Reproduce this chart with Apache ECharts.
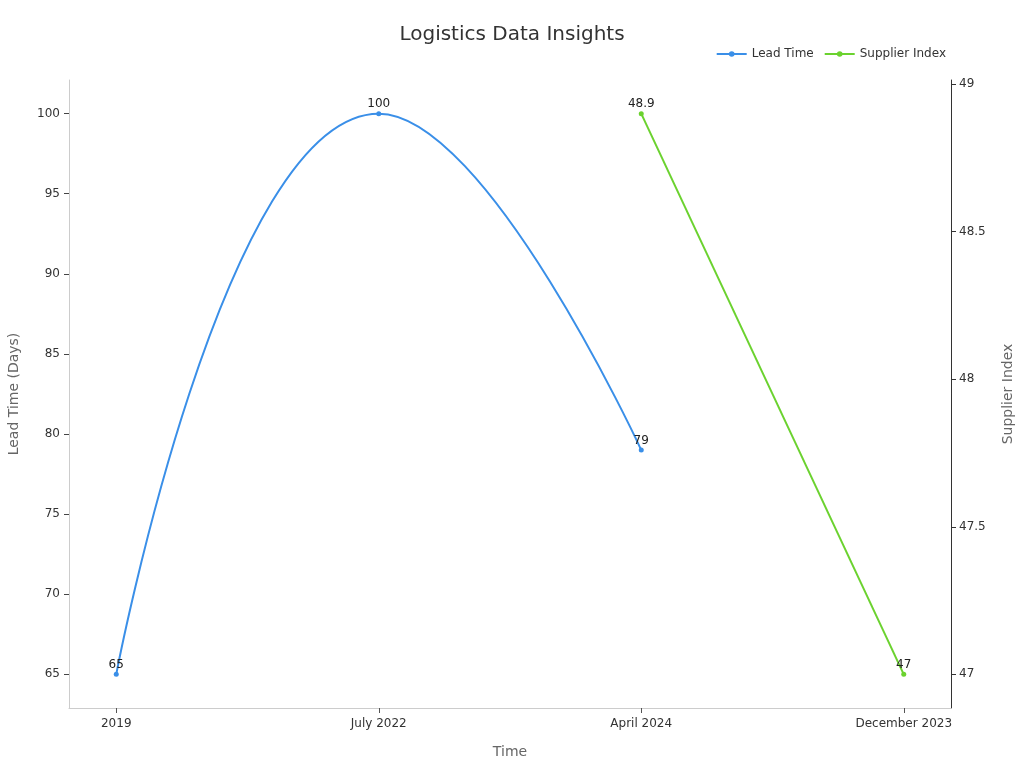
<!DOCTYPE html>
<html>
<head>
<meta charset="utf-8">
<script src="https://cdn.jsdelivr.net/npm/echarts@6/dist/echarts.min.js"></script>
<style>
  html, body { margin: 0; padding: 0; background: #fff; }
  #chart { width: 1024px; height: 768px; }
</style>
</head>
<body>
<div id="chart"></div>
<script>
const categories = ['2019', 'July 2022', 'April 2024', 'December 2023']
const leadTime = [65, 100, 79, null]
const supplierIndex = [null, null, 48.9, 47]
const leadTicks = [65, 70, 75, 80, 85, 90, 95, 100]
const supplierTicks = [47, 47.5, 48, 48.5, 49]

const font = 'DejaVu Sans'
const toPairs = (arr) => arr.map((v, i) => (v == null ? null : [i, v])).filter(p => p)

let chart = echarts.init(document.getElementById('chart'))
chart.setOption({
  textStyle: { fontFamily: font },
  title: {
    text: 'Logistics Data Insights',
    left: 'center',
    top: 20,
    textStyle: { fontSize: 20, fontWeight: 'normal', color: '#333', fontFamily: font }
  },
  legend: {
    top: 43,
    right: 73,
    itemWidth: 30,
    itemHeight: 7,
    itemGap: 10,
    textStyle: { fontSize: 12, color: '#333', fontFamily: font },
    data: ['Lead Time', 'Supplier Index']
  },
  grid: { left: 69, right: 73, top: 80, bottom: 60, outerBoundsMode: 'none', containLabel: false },
  xAxis: {
    type: 'value',
    min: -0.18,
    max: 3.18,
    name: 'Time',
    nameLocation: 'middle',
    nameGap: 37,
    nameTextStyle: { fontSize: 14, color: '#666' },
    splitLine: { show: false },
    axisLine: { onZero: false, lineStyle: { color: '#ccc' } },
    axisTick: { customValues: [0, 1, 2, 3], length: 5, lineStyle: { color: '#555' } },
    axisLabel: {
      customValues: [0, 1, 2, 3],
      formatter: v => categories[Math.round(v)],
      color: '#333',
      fontSize: 12,
      margin: 10
    }
  },
  yAxis: [
    {
      type: 'value',
      min: 62.9,
      max: 102.1,
      name: 'Lead Time (Days)',
      nameLocation: 'middle',
      nameGap: 48,
      nameTextStyle: { fontSize: 14, color: '#666' },
      splitLine: { show: false },
      axisLine: { show: true, onZero: false, lineStyle: { color: '#ccc' } },
      axisTick: { show: true, customValues: leadTicks, length: 5, lineStyle: { color: '#444' } },
      axisLabel: { customValues: leadTicks, color: '#333', fontSize: 12, margin: 9 }
    },
    {
      type: 'value',
      min: 46.886,
      max: 49.014,
      position: 'right',
      name: 'Supplier Index',
      nameLocation: 'middle',
      nameGap: 50,
      nameTextStyle: { fontSize: 14, color: '#666' },
      splitLine: { show: false },
      axisLine: { show: true, onZero: false, lineStyle: { color: '#333' } },
      axisTick: { show: true, customValues: supplierTicks, length: 5, lineStyle: { color: '#333' } },
      axisLabel: { customValues: supplierTicks, color: '#333', fontSize: 12, margin: 8 }
    }
  ],
  series: [
    {
      name: 'Lead Time',
      type: 'line',
      yAxisIndex: 0,
      smooth: true,
      symbol: 'circle',
      symbolSize: 5,
      color: '#3a8fe8',
      lineStyle: { width: 2 },
      label: { show: true, position: 'top', distance: 1, color: '#222', fontSize: 12 },
      data: toPairs(leadTime)
    },
    {
      name: 'Supplier Index',
      type: 'line',
      yAxisIndex: 1,
      symbol: 'circle',
      symbolSize: 5,
      color: '#6bd22f',
      lineStyle: { width: 2 },
      label: { show: true, position: 'top', distance: 1, color: '#222', fontSize: 12 },
      data: toPairs(supplierIndex)
    }
  ]
})
</script>
</body>
</html>
